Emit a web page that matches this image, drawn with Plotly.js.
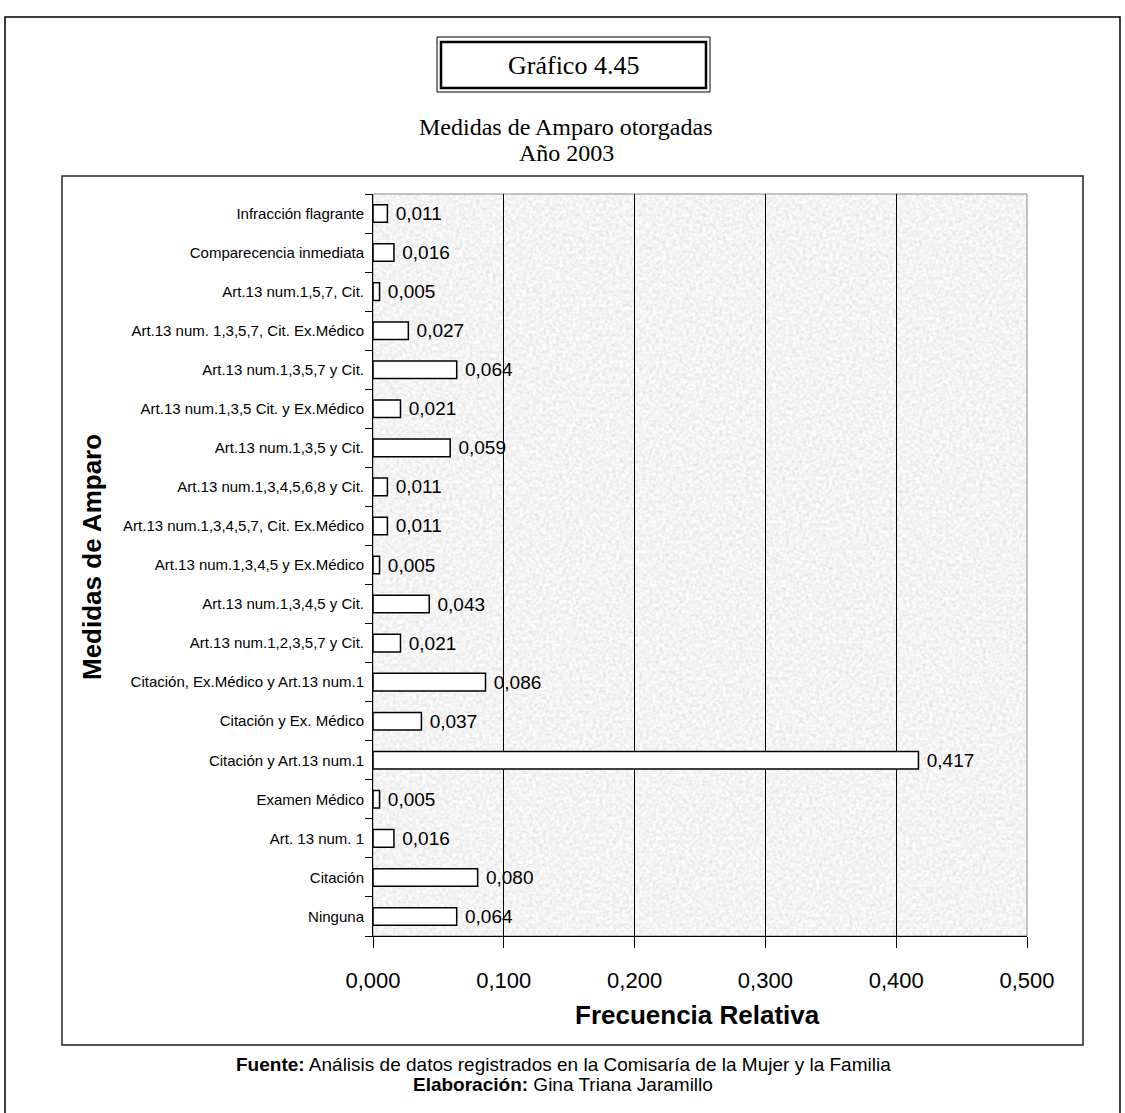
<!DOCTYPE html>
<html>
<head>
<meta charset="utf-8">
<script src="https://cdn.plot.ly/plotly-3.0.1.min.js"></script>
<style>html,body{margin:0;padding:0;background:#fff;}#chart{width:1125px;height:1113px;}</style>
</head>
<body>
<div id="chart"></div>
<script>
// ---- data (bottom to top) ----
const categories = [
  "Ninguna",
  "Citación",
  "Art. 13 num. 1",
  "Examen Médico",
  "Citación y Art.13 num.1",
  "Citación y Ex. Médico",
  "Citación, Ex.Médico y Art.13 num.1",
  "Art.13 num.1,2,3,5,7 y Cit.",
  "Art.13 num.1,3,4,5 y Cit.",
  "Art.13 num.1,3,4,5 y Ex.Médico",
  "Art.13 num.1,3,4,5,7, Cit. Ex.Médico",
  "Art.13 num.1,3,4,5,6,8 y Cit.",
  "Art.13 num.1,3,5 y Cit.",
  "Art.13 num.1,3,5 Cit. y Ex.Médico",
  "Art.13 num.1,3,5,7 y Cit.",
  "Art.13 num. 1,3,5,7, Cit. Ex.Médico",
  "Art.13 num.1,5,7, Cit.",
  "Comparecencia inmediata",
  "Infracción flagrante"
];
const frecuenciaRelativa = [
  0.064, 0.080, 0.016, 0.005, 0.417, 0.037, 0.086, 0.021, 0.043, 0.005,
  0.011, 0.011, 0.059, 0.021, 0.064, 0.027, 0.005, 0.016, 0.011
];
const xTickValues = [0, 0.1, 0.2, 0.3, 0.4, 0.5];
const xTickLabels = ["0,000", "0,100", "0,200", "0,300", "0,400", "0,500"];
const chartTitle = "Gráfico 4.45";
const subtitle1 = "Medidas de Amparo otorgadas";
const subtitle2 = "Año 2003";
const xTitle = "Frecuencia Relativa";
const yTitle = "Medidas de Amparo";
const footer1 = "<b>Fuente:</b> Análisis de datos registrados en la Comisaría de la Mujer y la Familia";
const footer2 = "<b>Elaboración:</b> Gina Triana Jaramillo";

// ---- geometry ----
const W = 1125, H = 1113;
const L = 373, R = 1027, T = 194, B = 936;
const px = x => (x - L) / (R - L);
const py = y => (B - y) / (B - T);

const noiseSvg = "<svg xmlns='http://www.w3.org/2000/svg' width='654' height='742'>" +
  "<filter id='n'><feTurbulence type='fractalNoise' baseFrequency='0.3' numOctaves='3' seed='4'/>" +
  "<feColorMatrix type='saturate' values='0'/>" +
  "<feComponentTransfer><feFuncR type='linear' slope='0.45' intercept='0.68'/>" +
  "<feFuncG type='linear' slope='0.45' intercept='0.68'/>" +
  "<feFuncB type='linear' slope='0.45' intercept='0.68'/>" +
  "<feFuncA type='linear' slope='0' intercept='1'/></feComponentTransfer></filter>" +
  "<rect width='100%' height='100%' filter='url(#n)'/></svg>";
const noiseUri = "data:image/svg+xml;charset=utf-8," + encodeURIComponent(noiseSvg);

const font = "Liberation Sans, Arial, sans-serif";
const serif = "Liberation Serif, Times New Roman, serif";

const trace = {
  type: "bar",
  orientation: "h",
  y: categories,
  x: frecuenciaRelativa,
  width: 0.45,
  marker: { color: "#ffffff", line: { color: "#000000", width: 1.5 } },
  texttemplate: " %{x:.3f}",
  textposition: "outside",
  constraintext: "none",
  textfont: { family: font, size: 19, color: "#000" },
  cliponaxis: false,
  hoverinfo: "skip"
};

const layout = {
  width: W, height: H,
  margin: { l: L, r: W - R, t: T, b: H - B, pad: 0 },
  paper_bgcolor: "#ffffff",
  plot_bgcolor: "#e8e8e8",
  separators: ",.",
  showlegend: false,
  xaxis: {
    range: [0, 0.5],
    tickvals: xTickValues,
    ticktext: xTickLabels,
    ticks: "outside", ticklen: 11, tickcolor: "#000", tickwidth: 1,
    showline: true, linecolor: "#000", linewidth: 1,
    showgrid: true, gridcolor: "#000", gridwidth: 1,
    zeroline: false,
    tickfont: { family: font, size: 22, color: "#000" },
    ticklabelstandoff: 14,
    fixedrange: true
  },
  yaxis: {
    type: "category",
    categoryorder: "array", categoryarray: categories,
    ticks: "outside", ticklen: 7, tickcolor: "#000", tickwidth: 1,
    tickson: "boundaries",
    showline: true, linecolor: "#000", linewidth: 1,
    showgrid: false, zeroline: false,
    tickfont: { family: font, size: 15, color: "#000" },
    ticklabelstandoff: 5,
    fixedrange: true
  },
  images: [{
    source: noiseUri, xref: "paper", yref: "paper",
    x: 0, y: 1, sizex: 1, sizey: 1, sizing: "stretch",
    xanchor: "left", yanchor: "top", layer: "below", opacity: 1
  }],
  shapes: [
    { type: "rect", xref: "paper", yref: "paper", x0: px(5), x1: px(1120), y0: py(1130), y1: py(17),
      line: { color: "#000", width: 1.5 }, fillcolor: "rgba(0,0,0,0)" },
    { type: "rect", xref: "paper", yref: "paper", x0: px(437), x1: px(710), y0: py(92), y1: py(37),
      line: { color: "#000", width: 1 }, fillcolor: "rgba(0,0,0,0)" },
    { type: "rect", xref: "paper", yref: "paper", x0: px(441), x1: px(706), y0: py(88), y1: py(42),
      line: { color: "#000", width: 2.5 }, fillcolor: "rgba(0,0,0,0)" },
    { type: "rect", xref: "paper", yref: "paper", x0: px(62), x1: px(1083), y0: py(1045), y1: py(176),
      line: { color: "#222", width: 1.5 }, fillcolor: "rgba(0,0,0,0)" },
    { type: "rect", xref: "paper", yref: "paper", x0: 0, x1: 1, y0: 0, y1: 1,
      line: { color: "#8a8a8a", width: 1 }, fillcolor: "rgba(0,0,0,0)", layer: "below" }
  ],
  annotations: [
    { text: chartTitle, xref: "paper", yref: "paper", x: px(573), y: py(65),
      xanchor: "center", yanchor: "middle", showarrow: false,
      font: { family: serif, size: 26, color: "#000" } },
    { text: subtitle1, xref: "paper", yref: "paper", x: px(566), y: py(127),
      xanchor: "center", yanchor: "middle", showarrow: false,
      font: { family: serif, size: 24, color: "#000" } },
    { text: subtitle2, xref: "paper", yref: "paper", x: px(566), y: py(153),
      xanchor: "center", yanchor: "middle", showarrow: false,
      font: { family: serif, size: 24, color: "#000" } },
    { text: "<b>" + yTitle + "</b>", xref: "paper", yref: "paper", x: px(92), y: py(557),
      xanchor: "center", yanchor: "middle", showarrow: false, textangle: -90,
      font: { family: font, size: 26, color: "#000" } },
    { text: "<b>" + xTitle + "</b>", xref: "paper", yref: "paper", x: px(697), y: py(1015),
      xanchor: "center", yanchor: "middle", showarrow: false,
      font: { family: font, size: 26, color: "#000" } },
    { text: footer1, xref: "paper", yref: "paper", x: px(563), y: py(1064),
      xanchor: "center", yanchor: "middle", showarrow: false,
      font: { family: font, size: 19, color: "#000" } },
    { text: footer2, xref: "paper", yref: "paper", x: px(563), y: py(1084),
      xanchor: "center", yanchor: "middle", showarrow: false,
      font: { family: font, size: 19, color: "#000" } }
  ]
};

Plotly.newPlot("chart", [trace], layout, { displayModeBar: false, staticPlot: true });
</script>
</body>
</html>
